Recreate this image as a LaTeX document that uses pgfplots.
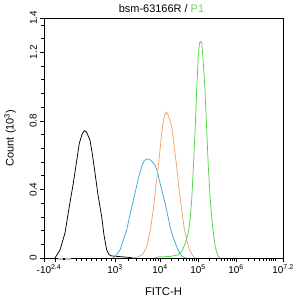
\documentclass[border=0pt]{standalone}
\usepackage{pgfplots}
\pgfplotsset{compat=1.18}
\usepackage{fontspec}
\setmainfont{Liberation Sans}

\definecolor{histblue}{HTML}{3AAAD8}
\definecolor{historange}{HTML}{F2A46C}
\definecolor{histgreen}{HTML}{55D24A}
\definecolor{titlegreen}{HTML}{6ADB5A}

% Histogram outlines: x in display channels, y in counts (x 10^3)
\pgfplotstableread{
x y
55 0
60 0.047
65 0.146
69 0.29
73.3 0.436
76.5 0.56
79.3 0.669
82 0.72
84.3 0.743
86.5 0.735
90 0.688
92.5 0.60
95 0.496
98 0.368
101.7 0.241
104 0.134
106.7 0.047
109 0.02
111.7 0.012
120 0.008
128 0.004
133 0
}\isotype

\pgfplotstableread{
x y
113 0
115 0.008
120 0.047
126.7 0.163
131 0.28
135 0.379
138.5 0.467
141.7 0.533
144 0.566
146.7 0.578
149.5 0.575
152 0.563
155 0.543
157.5 0.502
160 0.438
162.5 0.379
165 0.321
167.5 0.257
170 0.183
173 0.123
176.7 0.066
179 0.035
181.7 0.012
184 0.003
186 0
}\sampleA

\pgfplotstableread{
x y
133 0
138 0.006
143 0.023
146.7 0.066
150 0.152
153.3 0.28
156 0.426
158.3 0.533
160 0.63
161.7 0.728
163.5 0.805
165 0.84
166.7 0.85
168.5 0.828
170 0.80
171.7 0.766
174 0.659
176.7 0.533
179 0.403
181.7 0.28
184 0.181
186.7 0.105
189.5 0.047
193.3 0.008
196 0
}\sampleB

\pgfplotstableread{
x y
155 0
157 0.006
170 0.009
178 0.018
182 0.041
185 0.082
188.3 0.146
190 0.222
191.7 0.338
193.5 0.543
195 0.73
196.7 0.98
198.3 1.18
199.5 1.255
200.5 1.263
201.7 1.255
202.5 1.20
203.3 1.14
205 0.98
206.5 0.776
208.3 0.533
210 0.368
211.5 0.251
213.3 0.146
215.5 0.058
218.3 0.008
220 0
}\sampleC

\begin{document}
\begin{tikzpicture}
\begin{axis}[
  at={(0,0)}, anchor=south west,
  scale only axis, width=239bp, height=240bp,
  xmin=44, xmax=283, ymin=0, ymax=1.4,
  clip=false,
  axis line style={line width=0.6pt},
  tick style={line width=0.5pt, black},
  tick align=outside, xtick pos=bottom, ytick pos=left,
  major tick length=4bp, minor tick length=2.5bp,
  font=\fontsize{10}{12}\selectfont,
  xtick={44,55,115,160,198,236,283},
  xticklabels={{\hspace{10bp}-10\textsuperscript{2.4}},{},{10\textsuperscript{3}},{10\textsuperscript{4}},{10\textsuperscript{5}},{10\textsuperscript{6}},{10\textsuperscript{7.2}}},
  minor xtick={76,81,86,91,96,101,106,111,
    128.5,136.5,142.1,146.5,150,153,155.6,157.9,
    171.4,178.1,182.9,186.6,189.6,192.1,194.3,196.3,
    209.4,216.1,220.9,224.6,227.6,230.1,232.3,234.3,
    247.8,254.7,259.6,263.4,266.5,269.1,271.4,273.4,275.2},
  ytick={0,0.4,0.8,1.2,1.4},
  yticklabels={0,0.4,0.8,1.2,1.4},
  minor ytick={0.08,0.16,0.24,0.32,0.48,0.56,0.64,0.72,0.88,0.96,1.04,1.12,1.28,1.36},
  yticklabel style={rotate=90, anchor=south, inner sep=3bp},
  xticklabel style={inner sep=2.5bp},
  title={bsm-63166R / \textcolor{titlegreen}{P1}},
  title style={at={(axis description cs:0.5,1)}, anchor=center, yshift=3bp, xshift=-2bp, font=\fontsize{11}{13}\selectfont},
  xlabel={FITC-H},
  xlabel style={at={(axis description cs:0.5,0)}, anchor=center, yshift=-34bp, font=\fontsize{11.3}{13}\selectfont},
  ylabel={Count (10\textsuperscript{3})},
  ylabel style={at={(axis description cs:0,0.5)}, anchor=center, yshift=34bp, font=\fontsize{11}{13}\selectfont},
  every axis plot/.append style={line width=0.75pt, no marks},
]
\addplot[black] table {\isotype};
\addplot[histblue] table {\sampleA};
\addplot[historange] table {\sampleB};
\addplot[histgreen] table {\sampleC};
% linear-region marker on the channel axis
\draw[gray!55, line width=2.5bp] ([yshift=-1.2bp]axis cs:58.5,0) -- ([yshift=-1.2bp]axis cs:71.5,0);
\draw[black, line width=2.5bp] ([yshift=-1.2bp]axis cs:63,0) -- ([yshift=-1.2bp]axis cs:65,0);
\end{axis}
\pgfresetboundingbox
\path (-44bp,-43bp) rectangle (254bp,258bp);
\end{tikzpicture}
\end{document}
